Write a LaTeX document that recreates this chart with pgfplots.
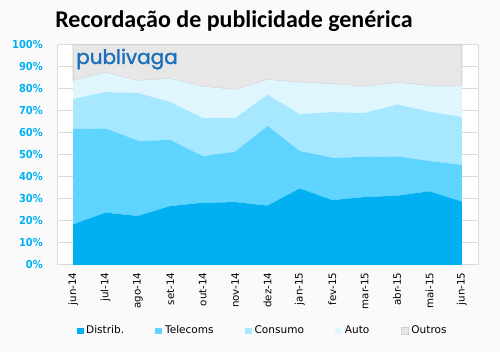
\documentclass[border=0pt]{standalone}
\usepackage{fontspec}
\usepackage{pgfplots}
\usepackage{pgfplotstable}
\pgfplotsset{compat=1.18}
\setmainfont{DejaVu Sans}
\newfontfamily\titlefont{Carlito}
\newfontfamily\logofont[FakeBold=1.6]{Poppins}
\newfontfamily\ytfont[FakeStretch=0.9]{DejaVu Sans}
\definecolor{cD}{HTML}{00B0F0}
\definecolor{cT}{HTML}{5ED4FF}
\definecolor{cC}{HTML}{A6E8FF}
\definecolor{cA}{HTML}{E0F6FF}
\definecolor{cO}{HTML}{E7E7E7}
\definecolor{bg}{HTML}{FAFAFA}
\definecolor{frame}{HTML}{D9D9D9}
\definecolor{logo}{HTML}{1C6FB8}
\pgfplotstableread{
x D T C A O
0 18.5 43.3 13.7 8.3 16.2
1 23.8 38.3 16.5 8.8 12.6
2 22.3 34.2 21.7 5.6 16.2
3 26.8 30.0 17.3 10.6 15.3
4 28.3 21.2 17.3 14.3 18.9
5 28.6 22.9 15.3 12.9 20.3
6 27.0 36.2 14.2 6.8 15.8
7 34.8 17.0 16.8 14.4 17.0
8 29.5 19.3 20.7 12.8 17.7
9 30.9 18.2 20.0 12.0 18.9
10 31.5 17.9 23.6 9.9 17.1
11 33.5 13.8 22.4 11.8 18.5
12 28.8 16.7 21.8 14.2 18.5
}\data
\begin{document}
\begin{tikzpicture}
\useasboundingbox (0,0) rectangle (375pt,264pt);
\fill[bg] (0,0) rectangle (375pt,264pt);
\begin{axis}[
  at={(42.75pt,65.25pt)}, anchor=south west,
  scale only axis, width=315.75pt, height=165pt,
  xmin=-0.5, xmax=12.5, ymin=0, ymax=100,
  stack plots=y,
  axis background/.style={fill=white},
  axis line style={frame, line width=0.75pt},
  xtick={0,...,12},
  xticklabels={jun-14,jul-14,ago-14,set-14,out-14,nov-14,dez-14,jan-15,fev-15,mar-15,abr-15,mai-15,jun-15},
  xticklabel style={yshift=-5.5pt, rotate=90, anchor=east, inner sep=0pt, font=\fontsize{7.7}{9}\selectfont},
  ytick={0,10,...,100},
  yticklabels={0\%,10\%,20\%,30\%,40\%,50\%,60\%,70\%,80\%,90\%,100\%},
  yticklabel style={anchor=east, inner sep=0pt, xshift=-10.5pt, text=cD, font=\ytfont\bfseries\fontsize{8.25}{9}\selectfont},
  tick style={draw=none},
  ymajorgrids, grid style={frame, line width=0.75pt},
  legend columns=5,
  legend image code/.code={\path[#1] (0pt,-2.6pt) rectangle (5.25pt,2.6pt);},
  legend style={at={(axis description cs:0.489,-0.3)}, anchor=center, draw=none, fill=none,
    font=\fontsize{7.9}{9}\selectfont,
    /tikz/every even column/.append style={column sep=21.5pt}},
]
\addplot[fill=cD, draw=none] table[x=x,y=D]{\data} \closedcycle;
\addlegendentry{Distrib.}
\addplot[fill=cT, draw=none] table[x=x,y=T]{\data} \closedcycle;
\addlegendentry{Telecoms}
\addplot[fill=cC, draw=none] table[x=x,y=C]{\data} \closedcycle;
\addlegendentry{Consumo}
\addplot[fill=cA, draw=none] table[x=x,y=A]{\data} \closedcycle;
\addlegendentry{Auto}
\addplot[fill=cO, draw=black!18, line width=0.75pt] table[x=x,y=O]{\data} \closedcycle;
\addlegendentry{Outros}
\pgfplotsinvokeforeach{0,...,12}{\draw[white, opacity=0.35, line width=0.75pt] (axis cs:#1,0) -- (axis cs:#1,100);}
\end{axis}
\node[anchor=base west, inner sep=0pt, font=\titlefont\bfseries\fontsize{18}{20}\selectfont] at (41.25pt,243pt) {Recordação de publicidade genérica};
\node[anchor=base west, inner sep=0pt, text=logo, font=\logofont\fontsize{15}{18}\selectfont] at (57pt,216pt) {publivaga};
\end{tikzpicture}
\end{document}
